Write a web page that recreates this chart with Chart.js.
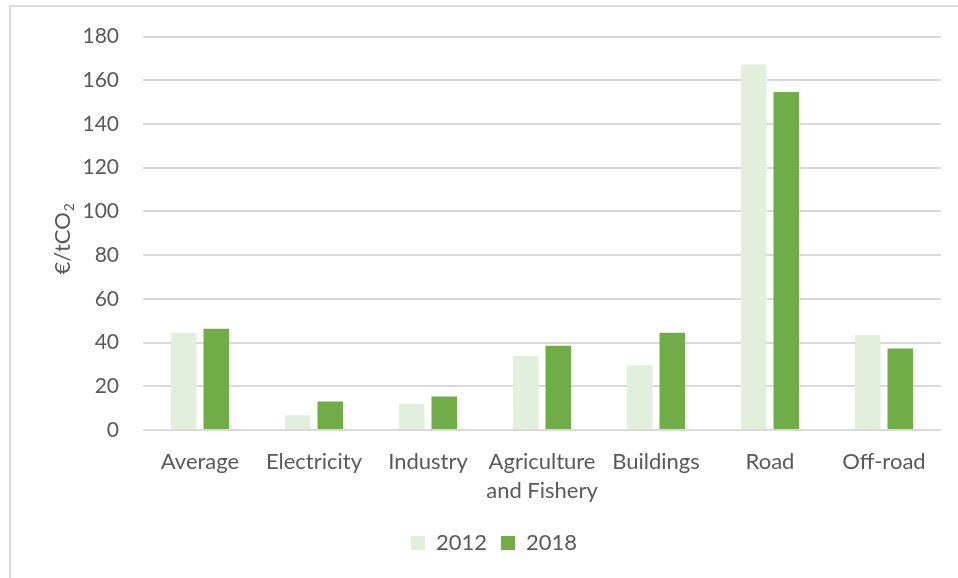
<!DOCTYPE html>
<html>
<head>
<meta charset="utf-8">
<script src="https://cdn.jsdelivr.net/npm/chart.js@4/dist/chart.umd.min.js"></script>
<style>
  html, body { margin: 0; padding: 0; background: #ffffff; }
  #wrap { position: relative; width: 958px; height: 578px; }
</style>
</head>
<body>
<div id="wrap"><canvas id="c" width="958" height="578"></canvas></div>
<script>
// Implicit carbon price by sector, €/tCO2
const sectors = ['Average', 'Electricity', 'Industry', ['Agriculture', 'and Fishery'], 'Buildings', 'Road', 'Off-road'];
const years = ['2012', '2018'];
const values2012 = [44.5, 6.8, 12.0, 33.9, 29.6, 167.2, 43.6];
const values2018 = [46.3, 13.0, 15.3, 38.6, 44.5, 154.6, 37.3];
const yTicks = [0, 20, 40, 60, 80, 100, 120, 140, 160, 180];
const yTitleMain = '€/tCO';
const yTitleSub = '2';

const textColor = '#595959';
const gridColor = '#d9d9d9';
const baseFont = 'Lato, "Open Sans", "Liberation Sans", sans-serif';

// light frame around the chart
const framePlugin = {
  id: 'frame',
  beforeDraw(chart) {
    const ctx = chart.ctx;
    ctx.save();
    ctx.strokeStyle = gridColor;
    ctx.lineWidth = 2;
    ctx.beginPath();
    ctx.moveTo(10, chart.height + 2);
    ctx.lineTo(10, 6);
    ctx.lineTo(chart.width + 2, 6);
    ctx.stroke();
    ctx.restore();
  }
};

// rotated y-axis title with a subscript "2"
const yTitlePlugin = {
  id: 'yTitle',
  afterDraw(chart) {
    const ctx = chart.ctx;
    const area = chart.chartArea;
    const cx = 63;
    const cy = (area.top + area.bottom) / 2 + 6;
    ctx.save();
    ctx.fillStyle = textColor;
    ctx.textBaseline = 'middle';
    ctx.textAlign = 'left';
    const mainFont = '22px ' + baseFont;
    const subFont = '14px ' + baseFont;
    ctx.font = mainFont;
    const w1 = ctx.measureText(yTitleMain).width;
    ctx.font = subFont;
    const w2 = ctx.measureText(yTitleSub).width;
    const start = -(w1 + w2) / 2;
    ctx.translate(cx, cy);
    ctx.rotate(-Math.PI / 2);
    ctx.font = mainFont;
    ctx.fillText(yTitleMain, start, 0);
    ctx.font = subFont;
    ctx.fillText(yTitleSub, start + w1 + 1, 6);
    ctx.restore();
  }
};

new Chart(document.getElementById('c'), {
  type: 'bar',
  data: {
    labels: sectors,
    datasets: [
      { label: years[0], data: values2012, backgroundColor: '#e2efda' },
      { label: years[1], data: values2018, backgroundColor: '#70ad47' }
    ]
  },
  options: {
    responsive: false,
    animation: false,
    categoryPercentage: 0.57,
    barPercentage: 0.785,
    layout: { padding: { left: 47, right: 17, top: 35, bottom: 14 } },
    plugins: {
      legend: {
        position: 'bottom',
        labels: {
          boxWidth: 14,
          boxHeight: 14,
          padding: 14,
          color: textColor,
          font: { family: baseFont, size: 22 }
        }
      },
      tooltip: { enabled: false }
    },
    scales: {
      x: {
        grid: { display: false, drawTicks: false },
        border: { display: false },
        ticks: {
          color: textColor,
          padding: 17,
          maxRotation: 0,
          autoSkip: false,
          font: { family: baseFont, size: 22, lineHeight: 1.32 }
        },
        afterFit(scale) { scale.height = 88; }
      },
      y: {
        min: 0,
        max: 180,
        afterBuildTicks(scale) { scale.ticks = yTicks.map(v => ({ value: v })); },
        grid: { color: gridColor, lineWidth: 2, drawTicks: false },
        border: { display: false },
        ticks: {
          color: textColor,
          padding: 24,
          font: { family: baseFont, size: 21 }
        },
        afterFit(scale) { scale.width = 96; }
      }
    }
  },
  plugins: [framePlugin, yTitlePlugin]
});
</script>
</body>
</html>
